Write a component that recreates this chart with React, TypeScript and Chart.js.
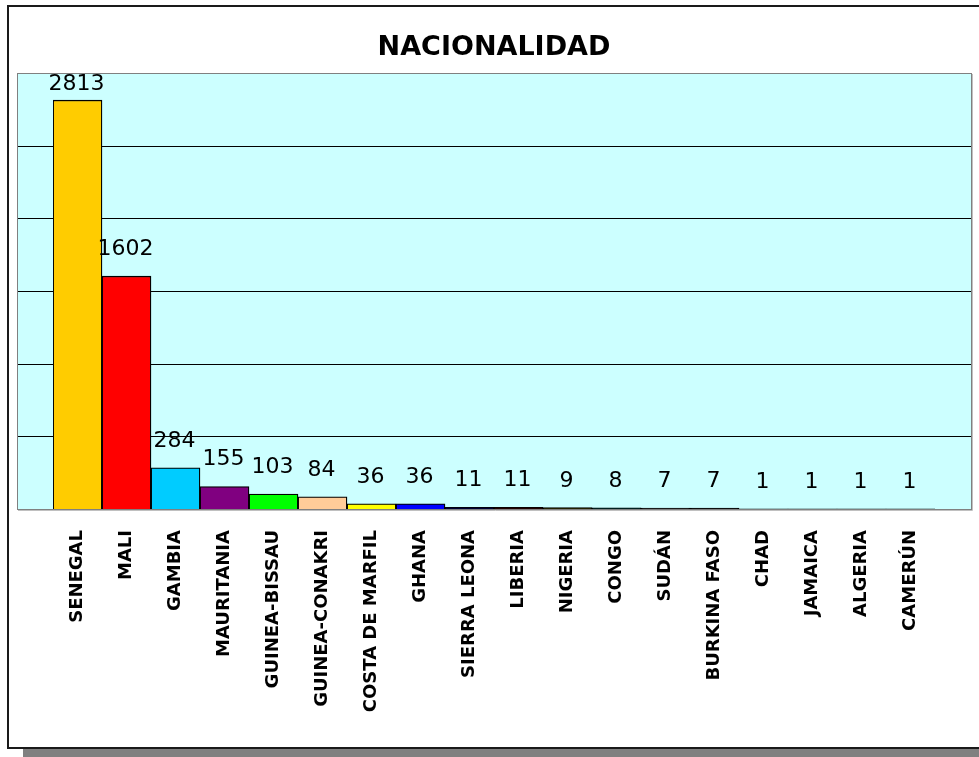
import React, { useEffect, useRef } from "react";
import { Chart, registerables } from "chart.js";

Chart.register(...registerables);

const TITLE = "NACIONALIDAD";
const countries = [
  "SENEGAL", "MALI", "GAMBIA", "MAURITANIA", "GUINEA-BISSAU", "GUINEA-CONAKRI",
  "COSTA DE MARFIL", "GHANA", "SIERRA LEONA", "LIBERIA", "NIGERIA", "CONGO",
  "SUDÁN", "BURKINA FASO", "CHAD", "JAMAICA", "ALGERIA", "CAMERÚN",
];
const values = [2813, 1602, 284, 155, 103, 84, 36, 36, 11, 11, 9, 8, 7, 7, 1, 1, 1, 1];
const barColors = [
  "#FFCC00", "#FF0000", "#00CCFF", "#800080", "#00FF00", "#FFCC99",
  "#FFFF00", "#0000FF", "#000033", "#200000", "#202000", "#002020",
  "#111111", "#000000", "#99CCCC", "#99CCCC", "#99CCCC", "#99CCCC",
];
const yMin = 0;
const yMax = 3000;
const yStep = 500;

const plotBgPlugin = {
  id: "plotBg",
  beforeDatasetsDraw(chart: any) {
    const { ctx, chartArea } = chart;
    const yScale = chart.scales.y;
    const cw = (chartArea.right - chartArea.left) / countries.length;
    const ext = cw * 0.74;
    const x0 = Math.round(chartArea.left - ext);
    const x1 = Math.round(chartArea.right + ext);
    const y0 = chartArea.top;
    const y1 = chartArea.bottom;
    ctx.save();
    ctx.fillStyle = "#CCFFFF";
    ctx.fillRect(x0, y0, x1 - x0, y1 - y0);
    ctx.strokeStyle = "#000000";
    ctx.lineWidth = 1;
    for (const t of yScale.ticks) {
      if (t.value <= yMin || t.value >= yMax) continue;
      const py = Math.round(yScale.getPixelForValue(t.value)) + 0.5;
      ctx.beginPath();
      ctx.moveTo(x0, py);
      ctx.lineTo(x1, py);
      ctx.stroke();
    }
    ctx.strokeStyle = "#C0C0C0";
    ctx.beginPath();
    ctx.moveTo(x1 + 1.5, y0 + 1);
    ctx.lineTo(x1 + 1.5, y1 + 1.5);
    ctx.lineTo(x0 + 1, y1 + 1.5);
    ctx.stroke();
    ctx.strokeStyle = "#808080";
    ctx.strokeRect(x0 + 0.5, y0 + 0.5, x1 - x0, y1 - y0);
    ctx.restore();
  },
};

const dataLabelPlugin = {
  id: "dataLabels",
  afterDatasetsDraw(chart: any) {
    const { ctx, chartArea } = chart;
    const meta = chart.getDatasetMeta(0);
    const fontSize = 22;
    const capH = fontSize * 0.73;
    ctx.save();
    ctx.font = `${fontSize}px "DejaVu Sans"`;
    ctx.fillStyle = "#000000";
    ctx.textAlign = "center";
    ctx.textBaseline = "alphabetic";
    meta.data.forEach((el: any, i: number) => {
      const base = Math.max(el.y - 21, chartArea.top + 1 + capH);
      ctx.fillText(String(values[i]), el.x - 1, base);
    });
    ctx.restore();
  },
};

export default function App() {
  const canvasRef = useRef<HTMLCanvasElement>(null);

  useEffect(() => {
    if (!canvasRef.current) return;
    const chart = new Chart(canvasRef.current, {
      type: "bar",
      data: {
        labels: countries,
        datasets: [
          {
            data: values,
            backgroundColor: barColors,
            borderColor: "#000000",
            borderWidth: 1.3,
            barPercentage: 1,
            categoryPercentage: 1,
          },
        ],
      },
      options: {
        responsive: false,
        animation: false,
        layout: { padding: { left: 53, right: 44, top: 0, bottom: 0 } },
        plugins: {
          legend: { display: false },
          tooltip: { enabled: false },
          title: {
            display: true,
            text: TITLE,
            color: "#000000",
            font: { family: '"DejaVu Sans"', size: 27, weight: "bold", lineHeight: 1.2 },
            padding: { top: 32, bottom: 8.6 },
          },
        },
        scales: {
          x: {
            grid: { display: false, drawTicks: false },
            border: { display: false },
            ticks: {
              autoSkip: false,
              maxRotation: 90,
              minRotation: 90,
              padding: 21,
              color: "#000000",
              font: { family: '"DejaVu Sans"', size: 18, weight: "bold" },
            },
            afterFit(scale: any) {
              scale.height = 248;
            },
          },
          y: {
            display: false,
            min: yMin,
            max: yMax,
            ticks: { stepSize: yStep },
          },
        },
      },
      plugins: [plotBgPlugin, dataLabelPlugin],
    });
    return () => chart.destroy();
  }, []);

  return (
    <div
      style={{
        position: "fixed",
        left: 0,
        top: 0,
        width: 979,
        height: 757,
        background: "#FFFFFF",
        overflow: "hidden",
      }}
    >
      <div
        style={{
          position: "absolute",
          left: 7,
          top: 5,
          width: 1000,
          height: 740,
          borderTop: "2px solid #1A1A1A",
          borderLeft: "2px solid #1A1A1A",
          borderBottom: "2px solid #1A1A1A",
        }}
      />
      <div
        style={{
          position: "absolute",
          left: 23,
          top: 749,
          width: 980,
          height: 8,
          background: "#808080",
        }}
      />
      <canvas
        ref={canvasRef}
        width={979}
        height={757}
        style={{ position: "absolute", left: 0, top: 0, width: 979, height: 757 }}
      />
    </div>
  );
}
